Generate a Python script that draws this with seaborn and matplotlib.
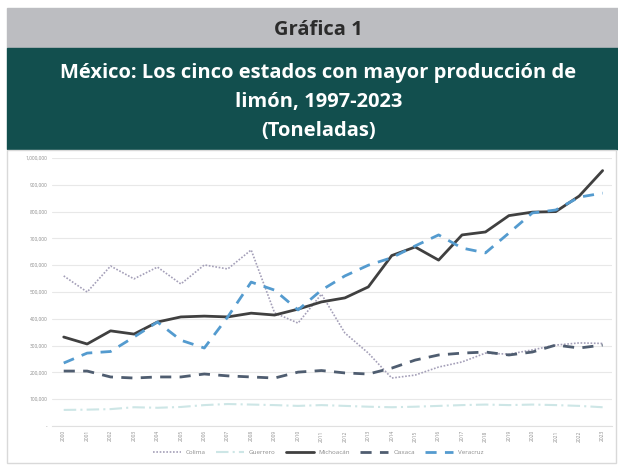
import numpy as np
import pandas as pd
import matplotlib
matplotlib.use("Agg")
import matplotlib.pyplot as plt
import seaborn as sns
from matplotlib.patches import Rectangle
from matplotlib.ticker import FuncFormatter

# datos (toneladas)
anios = list(range(2000, 2024))
colima = [560000, 500000, 597000, 549000, 593000, 530000, 601000, 586000, 657000, 422000,
          384000, 492000, 347000, 272000, 179000, 190000, 220000, 239000, 272000, 268000,
          284000, 302000, 310000, 308000]
guerrero = [60000, 61000, 63000, 70000, 68000, 71000, 78000, 82000, 80000, 78000,
            75000, 78000, 75000, 72000, 70000, 72000, 75000, 78000, 80000, 78000,
            80000, 78000, 75000, 70000]
michoacan = [332000, 306000, 355000, 343000, 388000, 407000, 410000, 407000, 421000, 414000,
             436000, 463000, 478000, 519000, 636000, 668000, 619000, 713000, 724000, 785000,
             798000, 800000, 858000, 953000]
oaxaca = [205000, 205000, 183000, 179000, 183000, 183000, 194000, 187000, 183000, 179000,
          201000, 207000, 198000, 194000, 216000, 246000, 265000, 272000, 276000, 265000,
          276000, 302000, 291000, 302000]
veracruz = [235000, 272000, 278000, 332000, 388000, 320000, 291000, 407000, 537000, 507000,
            433000, 507000, 560000, 600000, 628000, 672000, 713000, 664000, 646000, 720000,
            795000, 806000, 854000, 869000]

estados = ["Colima", "Guerrero", "Michoacán", "Oaxaca", "Veracruz"]
series = [colima, guerrero, michoacan, oaxaca, veracruz]

df = pd.DataFrame({"anio": anios * 5,
                   "estado": np.repeat(estados, len(anios)),
                   "ton": np.concatenate(series)})

estilos = {
    "Colima":    dict(color="#a49fb8", ls=(0, (1, 1)), lw=1.2),
    "Guerrero":  dict(color="#cde6e6", ls=(0, (6, 2, 1, 2)), lw=1.5),
    "Michoacán": dict(color="#404040", ls="-", lw=2.0),
    "Oaxaca":    dict(color="#4f5d70", ls=(0, (4, 3)), lw=2.0),
    "Veracruz":  dict(color="#549bcf", ls=(0, (4, 3)), lw=2.0),
}

sns.set_style("white")
plt.rcParams['font.family'] = ['Open Sans', 'DejaVu Sans']

fig = plt.figure(figsize=(6.18, 4.65), dpi=100)

# encabezado
fig.patches.append(Rectangle((7 / 618, 1 - 48 / 465), 1, 40 / 465, transform=fig.transFigure,
                             color="#bcbdc1", zorder=0))
fig.patches.append(Rectangle((7 / 618, 1 - 149 / 465), 1, 101 / 465, transform=fig.transFigure,
                             color="#124f4e", zorder=0))
# marco de la gráfica
fig.patches.append(Rectangle((7 / 618, 1 - 463 / 465), 609 / 618, 313 / 465,
                             transform=fig.transFigure, fill=False, ec="#d9d9d9", lw=1, zorder=0))

fig.text(0.515, 1 - 30 / 465, "Gráfica 1", ha="center", va="center",
         fontsize=14.5, fontweight="bold", color="#2b2b2b")
fig.text(0.515, 1 - 73 / 465, "México: Los cinco estados con mayor producción de",
         ha="center", va="center", fontsize=14.5, fontweight="bold", color="white")
fig.text(0.515, 1 - 102 / 465, "limón, 1997-2023", ha="center", va="center",
         fontsize=14.5, fontweight="bold", color="white")
fig.text(0.515, 1 - 131 / 465, "(Toneladas)", ha="center", va="center",
         fontsize=14.5, fontweight="bold", color="white")

ax = fig.add_axes([52 / 618, 39 / 465, 560 / 618, 268 / 465])
for est in estados:
    st = estilos[est]
    sns.lineplot(data=df[df["estado"] == est], x="anio", y="ton", ax=ax, label=est,
                 color=st["color"], linestyle=st["ls"], linewidth=st["lw"])

ax.set_ylim(0, 1000000)
ax.set_yticks(np.arange(0, 1000001, 100000))
ax.yaxis.set_major_formatter(FuncFormatter(lambda v, p: f"{int(v):,}" if v else "-"))
ax.set_xlim(anios[0] - 0.5, anios[-1] + 0.4)
ax.set_xticks(anios)
ax.set_xticklabels([str(a) for a in anios], rotation=90)
ax.tick_params(axis="both", labelsize=3.5, colors="#8c8c8c", length=0, pad=3)
ax.set_xlabel("")
ax.set_ylabel("")
ax.grid(axis="y", color="#e8e8e8", lw=0.8)
ax.grid(axis="x", visible=False)
for s in ["top", "right", "left"]:
    ax.spines[s].set_visible(False)
ax.spines["bottom"].set_color("#e0e0e0")

ax.legend(loc="center", bbox_to_anchor=(318 / 618, 13 / 465), bbox_transform=fig.transFigure,
          ncol=5, frameon=False, fontsize=4.5, handlelength=4.5, columnspacing=1.6,
          labelcolor="#8c8c8c")

fig.savefig("out.png", dpi=100)
